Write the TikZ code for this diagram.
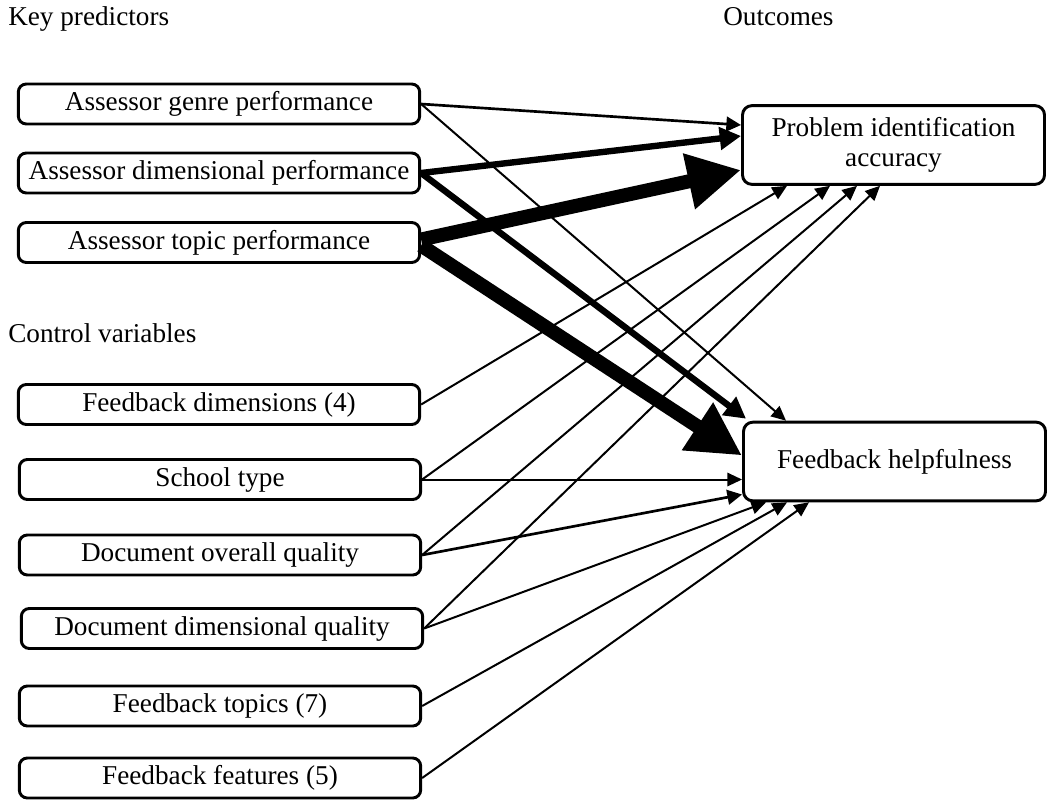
\documentclass[tikz,border=0pt]{standalone}
\usepackage{fontspec}
\setmainfont{Liberation Serif}
\usetikzlibrary{arrows.meta,calc}
\begin{document}
\begin{tikzpicture}[x=0.75pt,y=-0.75pt,
  every node/.style={font=\fontsize{20.4}{22.5}\selectfont},
  lbox/.style={draw,line width=2.2pt,rounded corners=6pt,minimum width=301pt,minimum height=30pt,inner sep=0pt},
  obox/.style={draw,line width=2.2pt,rounded corners=7pt,minimum width=226.5pt,minimum height=59pt,inner sep=0pt,align=center},
  hdr/.style={anchor=base west,inner sep=0pt},
  thinar/.style={line width=1.5pt,-{Triangle[length=11pt,width=10pt]}},
  medar/.style={line width=2pt,-{Triangle[length=11pt,width=11pt]}},
  thickar/.style={line width=4.8pt,-{Triangle[length=16pt,width=16.5pt]}},
  hugear/.style={line width=10.5pt,-{Triangle[length=40pt,width=40pt]}}]
\useasboundingbox (0,0) rectangle (1048,800);
% headers
\node[hdr] (hkey) at (8,25) {Key predictors};
\node[hdr] (hout) at (723,25) {Outcomes};
\node[hdr] (hctl) at (8,342) {Control variables};
% left boxes
\node[lbox] (genre) at (219,104) {Assessor genre performance};
\node[lbox] (dimp) at (219,173) {Assessor dimensional performance};
\node[lbox] (topic) at (219,242.5) {Assessor topic performance};
\node[lbox] (fdim) at (219,404.5) {Feedback dimensions (4)};
\node[lbox] (school) at (220,479.5) {School type};
\node[lbox] (dover) at (220,555) {Document overall quality};
\node[lbox] (ddim) at (222,628.5) {Document dimensional quality};
\node[lbox] (ftop) at (220,706) {Feedback topics (7)};
\node[lbox] (ffeat) at (220,778) {Feedback features (5)};
% outcome boxes
\node[obox] (prob) at (893.5,145) {Problem identification\\accuracy};
\node[obox] (help) at (894.5,461.5) {Feedback helpfulness};
% arrows to problem identification
\draw[medar] (genre.east) -- ($(prob.west)+(0,-20)$);
\draw[thickar] (dimp.east) -- ($(prob.west)+(0,-9)$);
\draw[hugear] ($(topic.east)+(0,-3)$) -- ($(prob.west)+(0,25)$);
\draw[thinar] (fdim.east) -- ($(prob.south west)+(46,0)$);
\draw[thinar] (school.east) -- ($(prob.south west)+(89,0)$);
\draw[thinar] (dover.east) -- ($(prob.south west)+(116,0)$);
\draw[thinar] (ddim.east) -- ($(prob.south west)+(139,0)$);
% arrows to helpfulness
\draw[thinar] (genre.east) -- ($(help.north west)+(44,0)$);
\draw[thickar] (dimp.east) -- ($(help.north west)+(4,-2)$);
\draw[hugear] ($(topic.east)+(0,3)$) -- ($(help.west)+(0,-6)$);
\draw[thinar] (school.east) -- ($(help.west)+(0,18)$);
\draw[medar] (dover.east) -- ($(help.west)+(0,33)$);
\draw[thinar] (ddim.east) -- ($(help.south west)+(24,0)$);
\draw[thinar] (ftop.east) -- ($(help.south west)+(45,0)$);
\draw[thinar] (ffeat.east) -- ($(help.south west)+(67,0)$);
\end{tikzpicture}
\end{document}
